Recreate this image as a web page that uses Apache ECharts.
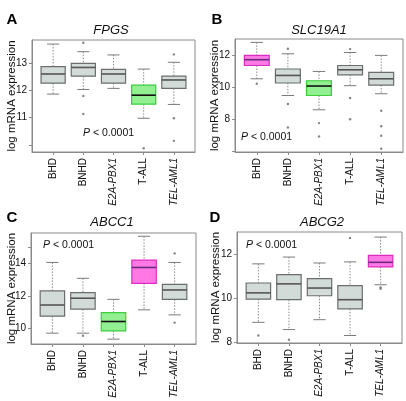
<!DOCTYPE html>
<html><head><meta charset="utf-8">
<script src="https://cdn.jsdelivr.net/npm/echarts@6/dist/echarts.min.js"></script>
<style>html,body{margin:0;padding:0;background:#fff}#c{width:406px;height:401px}</style>
</head><body><div id="c"></div>
<script>
// ---------- DATA ----------
const categories = ['BHD', 'BNHD', 'E2A-PBX1', 'T-ALL', 'TEL-AML1'];
const italicCats = ['E2A-PBX1', 'TEL-AML1'];
const genes = ['FPGS', 'SLC19A1', 'ABCC1', 'ABCG2'];
const panelLetters = ['A', 'B', 'C', 'D'];
const pValueText = '< 0.0001';
const yAxisTitle = 'log mRNA expression';

// box stats per category: [lower whisker, Q1, median, Q3, upper whisker]
const fpgsBoxes = [[11.87, 12.27, 12.61, 12.88, 13.71], [12.04, 12.53, 12.85, 13.00, 13.43], [12.08, 12.27, 12.61, 12.78, 13.31], [10.98, 11.50, 11.83, 12.20, 12.79], [11.49, 12.08, 12.39, 12.53, 13.04]];
const slcBoxes = [[10.52, 11.35, 11.71, 11.98, 12.79], [9.48, 10.26, 10.73, 11.13, 12.08], [8.59, 9.48, 10.07, 10.40, 10.98], [10.09, 10.77, 11.08, 11.35, 12.16], [9.59, 10.13, 10.52, 10.92, 11.98]];
const abcc1Boxes = [[9.69, 10.74, 11.43, 12.30, 14.06], [9.69, 11.17, 11.85, 12.19, 13.08], [9.32, 9.83, 10.41, 10.96, 11.78], [11.13, 12.77, 13.75, 14.20, 15.68], [10.82, 11.78, 12.36, 12.71, 14.06]];
const abcg2Boxes = [[8.89, 9.95, 10.23, 10.68, 11.55], [8.56, 9.92, 10.64, 11.06, 11.86], [9.01, 10.10, 10.45, 10.88, 11.59], [8.29, 9.50, 9.92, 10.56, 11.64], [10.60, 11.41, 11.62, 11.94, 12.77]];

// outliers: [category number (1-based), value]
const fpgsOutliers = [[2, 13.76], [2, 11.80], [2, 11.14], [4, 9.88], [5, 13.33], [5, 10.98], [5, 10.15]];
const slcOutliers = [[1, 10.21], [2, 12.39], [2, 8.95], [2, 7.49], [3, 7.76], [3, 6.93], [4, 12.37], [4, 9.32], [4, 8.00], [5, 8.53], [5, 7.56], [5, 6.97], [5, 6.16]];
const abcc1Outliers = [[2, 9.53], [5, 14.62], [5, 10.34]];
const abcg2Outliers = [[1, 8.29], [2, 8.10], [4, 12.73], [5, 10.48], [5, 10.42]];

// highlight group per category: 0 = grey, 1 = green, 2 = pink
const fpgsGroups = [0, 0, 0, 1, 0];
const slcGroups = [2, 0, 1, 0, 0];
const abcc1Groups = [0, 0, 1, 2, 0];
const abcg2Groups = [0, 0, 0, 0, 2];

// y axis ranges, ticks and labels
const fpgsRange = [9.74, 13.86], fpgsTicks = [10, 11, 12, 13], fpgsLabels = [11, 12, 13];
const slcRange = [5.96, 13.0], slcTicks = [6, 8, 10, 12], slcLabels = [8, 10, 12];
const abcc1Range = [9.02, 15.88], abcc1Ticks = [10, 12, 14, 15], abcc1Labels = [10, 12, 14];
const abcg2Range = [7.95, 13.0], abcg2Ticks = [8, 10, 12], abcg2Labels = [8, 10, 12];

// ---------- BUILD ----------
const panels = [
  {boxes: fpgsBoxes, out: fpgsOutliers, groups: fpgsGroups, range: fpgsRange, ticks: fpgsTicks, labels: fpgsLabels},
  {boxes: slcBoxes, out: slcOutliers, groups: slcGroups, range: slcRange, ticks: slcTicks, labels: slcLabels},
  {boxes: abcc1Boxes, out: abcc1Outliers, groups: abcc1Groups, range: abcc1Range, ticks: abcc1Ticks, labels: abcc1Labels},
  {boxes: abcg2Boxes, out: abcg2Outliers, groups: abcg2Groups, range: abcg2Range, ticks: abcg2Ticks, labels: abcg2Labels}
];
// layout (pixels)
const layout = [
  {l: 32, r: 195, t: 40, b: 152, nameX: 12, title: [111, 30], letter: [12, 19.5], p: [83, 133.5]},
  {l: 235, r: 403, t: 39, b: 152, nameX: 215, title: [319, 30], letter: [217, 19.5], p: [241, 137.5]},
  {l: 31, r: 196, t: 233, b: 344, nameX: 12, title: [112, 222.5], letter: [12, 218], p: [43, 245]},
  {l: 237, r: 402, t: 232, b: 343, nameX: 216, title: [322, 222.5], letter: [215, 218], p: [246, 245]}
];
const styles = [
  {fill: '#d2dbd8', stroke: '#6b6e6d', med: '#555'},
  {fill: '#92f092', stroke: '#3ccc3c', med: '#111'},
  {fill: '#ff78e4', stroke: '#dc2cc0', med: '#6a2c80'}
];
const FONT = '"Liberation Sans", Arial, Helvetica, sans-serif';
const axisColor = '#8a8a8a';

function renderBox(params, api) {
  const x = api.value(0);
  const lo = api.value(1), q1 = api.value(2), med = api.value(3), q3 = api.value(4), hi = api.value(5);
  const st = styles[api.value(6)];
  const hw = 0.4, cw = 0.2;
  const tl = api.coord([x - hw, q3]), br = api.coord([x + hw, q1]);
  const mL = api.coord([x - hw, med]), mR = api.coord([x + hw, med]);
  const cTop = api.coord([x, hi]), cQ3 = api.coord([x, q3]), cQ1 = api.coord([x, q1]), cLo = api.coord([x, lo]);
  const capL_hi = api.coord([x - cw, hi]), capR_hi = api.coord([x + cw, hi]);
  const capL_lo = api.coord([x - cw, lo]), capR_lo = api.coord([x + cw, lo]);
  const wStyle = {stroke: '#8c8c8c', lineWidth: 1, lineDash: [1.5, 1.5]};
  const cStyle = {stroke: '#7a7a7a', lineWidth: 1};
  return {
    type: 'group',
    children: [
      {type: 'line', shape: {x1: cTop[0], y1: cTop[1], x2: cQ3[0], y2: cQ3[1]}, style: wStyle},
      {type: 'line', shape: {x1: cQ1[0], y1: cQ1[1], x2: cLo[0], y2: cLo[1]}, style: wStyle},
      {type: 'line', shape: {x1: capL_hi[0], y1: capL_hi[1], x2: capR_hi[0], y2: capR_hi[1]}, style: cStyle},
      {type: 'line', shape: {x1: capL_lo[0], y1: capL_lo[1], x2: capR_lo[0], y2: capR_lo[1]}, style: cStyle},
      {type: 'rect', shape: {x: tl[0], y: tl[1], width: br[0] - tl[0], height: br[1] - tl[1]}, style: {fill: st.fill, stroke: st.stroke, lineWidth: 1.2}},
      {type: 'line', shape: {x1: mL[0], y1: mL[1], x2: mR[0], y2: mR[1]}, style: {stroke: st.med, lineWidth: 1.6}}
    ]
  };
}

const grids = [], xAxes = [], yAxes = [], series = [], graphics = [];
panels.forEach((p, i) => {
  const L = layout[i];
  grids.push({left: L.l, top: L.t, width: L.r - L.l, height: L.b - L.t, show: true, borderColor: axisColor, borderWidth: 1, backgroundColor: 'transparent'});
  xAxes.push({
    type: 'value', gridIndex: i, min: 0.3, max: 5.7,
    splitLine: {show: false},
    axisLine: {show: true, onZero: false, lineStyle: {color: axisColor}},
    axisTick: {show: true, length: 3, lineStyle: {color: axisColor}, customValues: [1, 2, 3, 4, 5]},
    axisLabel: {
      rotate: 90, margin: 6, fontSize: 10, color: '#111', fontFamily: FONT,
      customValues: [1, 2, 3, 4, 5],
      formatter: v => {
        const c = categories[Math.round(v) - 1];
        return italicCats.includes(c) ? '{i|' + c + '}' : c;
      },
      rich: {i: {fontStyle: 'italic', fontSize: 10, fontFamily: FONT, color: '#111'}}
    }
  });
  yAxes.push({
    type: 'value', gridIndex: i, min: p.range[0], max: p.range[1],
    splitLine: {show: false},
    axisLine: {show: true, onZero: false, lineStyle: {color: axisColor}},
    axisTick: {show: true, length: 3, lineStyle: {color: axisColor}, customValues: p.ticks},
    axisLabel: {margin: 5, fontSize: 10, color: '#111', fontFamily: FONT, customValues: p.labels}
  });
  series.push({
    type: 'custom', xAxisIndex: i, yAxisIndex: i, renderItem: renderBox,
    encode: {x: 0, y: [1, 2, 3, 4, 5]},
    data: p.boxes.map((b, k) => [k + 1, b[0], b[1], b[2], b[3], b[4], p.groups[k]]),
    silent: true, animation: false
  });
  series.push({
    type: 'scatter', xAxisIndex: i, yAxisIndex: i, symbol: 'circle', symbolSize: 2.4,
    itemStyle: {color: '#666'}, data: p.out, silent: true, animation: false
  });
  graphics.push({type: 'text', x: L.nameX, y: (L.t + L.b) / 2, rotation: Math.PI / 2,
    style: {text: yAxisTitle, font: '11.5px ' + FONT, fill: '#111', textAlign: 'center', textVerticalAlign: 'middle'}});
  graphics.push({type: 'text', x: L.title[0], y: L.title[1], style: {text: genes[i], font: 'italic 13px ' + FONT, fill: '#111', textAlign: 'center', textVerticalAlign: 'middle'}});
  graphics.push({type: 'text', x: L.letter[0], y: L.letter[1], style: {text: panelLetters[i], font: 'bold 15px ' + FONT, fill: '#000', textAlign: 'center', textVerticalAlign: 'middle'}});
  graphics.push({type: 'text', x: L.p[0], y: L.p[1], style: {text: '{p|P} ' + pValueText, rich: {p: {fontStyle: 'italic', fontSize: 10.5, fontFamily: FONT, fill: '#111'}}, font: '10.5px ' + FONT, fill: '#111', textAlign: 'left', textVerticalAlign: 'middle'}});
});

const chart = echarts.init(document.getElementById('c'), null, {renderer: 'canvas'});
chart.setOption({
  animation: false,
  backgroundColor: '#fff',
  grid: grids, xAxis: xAxes, yAxis: yAxes, series: series,
  graphic: {elements: graphics}
});
</script></body></html>
